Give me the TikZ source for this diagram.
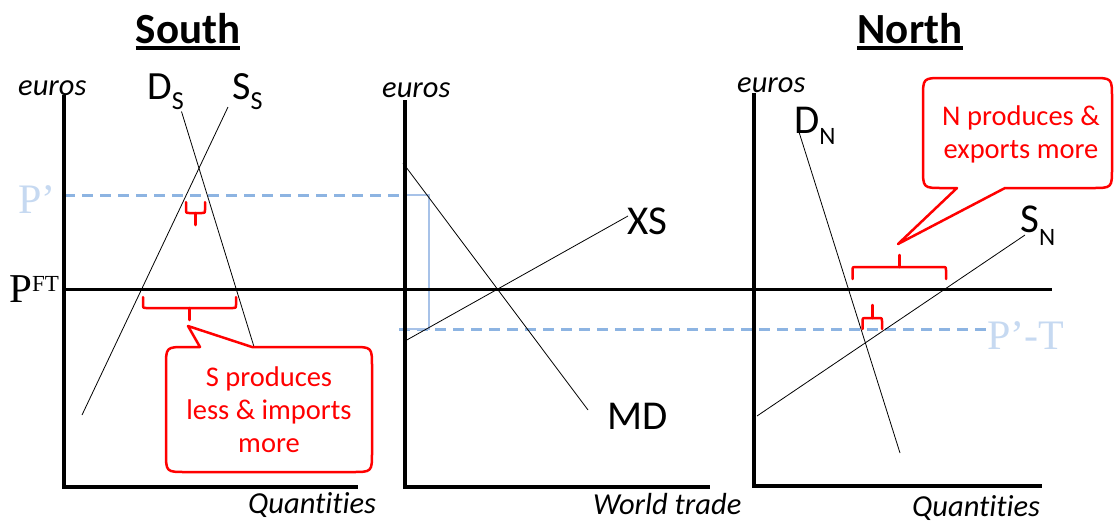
\documentclass[tikz,border=0pt]{standalone}
\usepackage{fontspec}
\setmainfont{Carlito}[Ligatures=NoCommon]
\newfontfamily\seriffont{Liberation Serif}
\definecolor{dashblue}{HTML}{8DB4E2}
\definecolor{lblue}{HTML}{C6D9F1}
\definecolor{rectblue}{HTML}{A7C2E8}
\begin{document}
\begin{tikzpicture}[x=1pt,y=-1pt,
  axis/.style={line width=4pt},
  curve/.style={line width=0.8pt},
  pline/.style={line width=3pt},
  pdash/.style={dashblue, line width=3pt, dash pattern=on 11pt off 7pt},
  bracepath/.style={red, line width=2.5pt, line join=round, line cap=round},
  callout/.style={red, line width=2.5pt, fill=white, line join=round},
  lbl/.style={inner sep=0pt, anchor=base west},
  title/.style={inner sep=0pt, anchor=base, font=\bfseries\fontsize{43}{43}\selectfont},
  axlbl/.style={inner sep=0pt, anchor=base west, font=\itshape\fontsize{30.5}{30.5}\selectfont},
  crv/.style={inner sep=0pt, anchor=base west, font=\fontsize{41}{41}\selectfont},
  ctext/.style={inner sep=0pt, red, align=center, font=\fontsize{28.5}{33}\selectfont},
  ptext/.style={inner sep=0pt, anchor=base west, lblue, font=\seriffont\fontsize{42}{42}\selectfont}]
\useasboundingbox (0,0) rectangle (1114,523);

% titles
\node[title] (south) at (188,43) {South};
\draw[line width=3.5pt] ([yshift=-5pt]south.base west) -- ([yshift=-5pt]south.base east);
\node[title] (north) at (910,43) {North};
\draw[line width=3.5pt] ([yshift=-5pt]north.base west) -- ([yshift=-5pt]north.base east);

% axis labels
\node[axlbl] (eS) at (18,95) {euros};
\node[axlbl] (eM) at (382,97) {euros};
\node[axlbl] (eN) at (737,92) {euros};
\node[axlbl] (qS) at (248,513) {Quantities};
\node[axlbl] (wt) at (593,514) {World trade};
\node[axlbl] (qN) at (912,516) {Quantities};

% price lines
\coordinate (ps1) at (64,195); \coordinate (ps2) at (405,195);
\coordinate (pt1) at (399,329); \coordinate (pt2) at (987,329);
\coordinate (ft1) at (64,289.5); \coordinate (ft2) at (1052,289.5);
\draw[pdash] (ps1) -- (ps2);
\draw[pdash] (pt1) -- (pt2);
\coordinate (r1) at (404,195); \coordinate (r2) at (429,195);
\coordinate (r3) at (429,329); \coordinate (r4) at (404,329);
\draw[rectblue, line width=2pt] (r1) -- (r2) -- (r3) -- (r4);
\draw[pline] (ft1) -- (ft2);

% axes
\coordinate (aS1) at (64,95); \coordinate (aS0) at (64,487); \coordinate (aS2) at (358,487);
\coordinate (aM1) at (405,100); \coordinate (aM0) at (405,487); \coordinate (aM2) at (710,487);
\coordinate (aN1) at (754,93); \coordinate (aN0) at (754,486); \coordinate (aN2) at (1042,486);
\draw[axis] (aS1) -- (aS0) -- (aS2);
\draw[axis] (aM1) -- (aM0) -- (aM2);
\draw[axis] (aN1) -- (aN0) -- (aN2);

% price labels
\node[ptext] (pprime) at (18,213) {P’};
\node[inner sep=0pt, anchor=base west, font=\seriffont\fontsize{41}{41}\selectfont] (pft) at (9,302.5) {P\raisebox{11pt}{\fontsize{23}{23}\selectfont FT}};
\node[ptext] (pmt) at (987,349) {P’-T};

% South curves
\coordinate (dS1) at (181.5,111.5); \coordinate (dS2) at (255,350);
\coordinate (sS1) at (228,107); \coordinate (sS2) at (82,415);
\draw[curve] (dS1) -- (dS2);
\draw[curve] (sS1) -- (sS2);
\node[lbl, font=\fontsize{40}{40}\selectfont] (DS) at (147,99) {D\raisebox{-10pt}{\fontsize{26}{26}\selectfont S}};
\node[lbl, font=\fontsize{40}{40}\selectfont] (SS) at (232,99) {S\raisebox{-10pt}{\fontsize{26}{26}\selectfont S}};

% Middle curves
\coordinate (md1) at (403,163); \coordinate (md2) at (588,410);
\coordinate (xs1) at (405,341); \coordinate (xs2) at (628,216);
\draw[curve] (md1) -- (md2);
\draw[curve] (xs1) -- (xs2);
\node[crv] (XS) at (627,234) {XS};
\node[crv] (MD) at (607,429) {MD};

% North curves
\coordinate (dN1) at (799,132); \coordinate (dN2) at (900,453);
\coordinate (sN1) at (1025,235); \coordinate (sN2) at (757,416);
\draw[curve] (dN1) -- (dN2);
\draw[curve] (sN1) -- (sN2);
\node[lbl, font=\fontsize{41}{41}\selectfont] (DN) at (794,133) {D\raisebox{-11pt}{\fontsize{25}{25}\selectfont N}};
\node[lbl, font=\fontsize{41}{41}\selectfont] (SN) at (1020,232) {S\raisebox{-13pt}{\fontsize{25}{25}\selectfont N}};

% braces South
\draw[bracepath] (186,202) -- (186,210) .. controls (186,213) .. (189,213) -- (202,213) .. controls (205,213) .. (205,210) -- (205,202);
\draw[bracepath] (195.5,213) -- (195.5,225);
\draw[bracepath] (143,297) -- (143,305) .. controls (143,308) .. (146,308) -- (233,308) .. controls (236,308) .. (236,305) -- (236,297);
\draw[bracepath] (189.5,308) -- (189.5,320);

% braces North
\draw[bracepath] (852.5,279) -- (852.5,270) .. controls (852.5,267) .. (855.5,267) -- (943,267) .. controls (946,267) .. (946,270) -- (946,279);
\draw[bracepath] (899.5,267) -- (899.5,255);
\draw[bracepath] (862.5,329) -- (862.5,321) .. controls (862.5,318) .. (865.5,318) -- (879,318) .. controls (882,318) .. (882,321) -- (882,329);
\draw[bracepath] (872.5,318) -- (872.5,305);

% South callout
\draw[callout] (200,347) -- (188,326) -- (252,347) -- (352,347) .. controls (372,347) .. (372,367) -- (372,452) .. controls (372,472) .. (352,472) -- (186,472) .. controls (166,472) .. (166,452) -- (166,367) .. controls (166,347) .. (186,347) -- cycle;
\node[ctext] (cS) at (269,410) {S produces\\less \& imports\\more};

% North callout
\draw[callout] (957,188) -- (898,244) -- (1005,188) -- (1092,188) .. controls (1112,188) .. (1112,168) -- (1112,98) .. controls (1112,78) .. (1092,78) -- (943,78) .. controls (923,78) .. (923,98) -- (923,168) .. controls (923,188) .. (943,188) -- cycle;
\node[ctext] (cN) at (1021,134) {N produces \&\\exports more};
\end{tikzpicture}
\end{document}
